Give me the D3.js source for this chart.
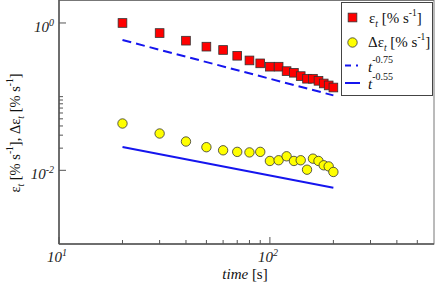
<!DOCTYPE html>
<html>
<head>
<meta charset="utf-8">
<script src="https://cdn.jsdelivr.net/npm/d3@7"></script>
<style>
  body { margin: 0; background: #fff; }
</style>
</head>
<body>
<div id="chart"></div>
<script>
  // time points [s]
  const times = [20, 30, 40, 50, 60, 70, 80, 90, 100, 110, 120, 130, 140, 150, 160, 170, 180, 190, 200];

  // strain rate eps_t [% s^-1]
  const epsRate = [1.0, 0.73, 0.575, 0.477, 0.43, 0.359, 0.31, 0.283, 0.255, 0.255, 0.222, 0.211, 0.19, 0.175, 0.175, 0.164, 0.151, 0.142, 0.133];

  // fluctuation delta eps_t [% s^-1]
  const deltaEps = [0.0432, 0.0316, 0.0246, 0.0206, 0.0187, 0.0178, 0.0175, 0.0178, 0.0134, 0.0137, 0.0155, 0.0134, 0.0137, 0.0102, 0.0144, 0.0134, 0.0117, 0.0113, 0.0095];

  // power-law guide lines, end points
  const fitTimes = [20, 200];
  const fitSlow = [0.587, 0.104];   // t^-0.75
  const fitFast = [0.0207, 0.0058]; // t^-0.55

  const xMinor = [20, 30, 40, 50, 60, 70, 80, 90, 200, 300, 400, 500];
  const xMajor = [10, 100];
  const yMinor = [0.02, 0.03, 0.04, 0.05, 0.06, 0.07, 0.08, 0.09, 0.1];
  const yMajor = [1, 0.01];

  const width = 436, height = 284;
  const mLeft = 59, mRight = 434, mTop = 0, mBottom = 244;
  const serif = 'Liberation Serif';

  const svg = d3.select('#chart').append('svg')
    .attr('width', width)
    .attr('height', height)
    .style('display', 'block');

  const x = d3.scaleLog().domain([10, 600]).range([mLeft, mRight]);
  const y = d3.scaleLog().domain([1e-3, 2.05]).range([mBottom, mTop]);

  const axisColor = '#555';

  // frame
  svg.append('rect')
    .attr('x', mLeft).attr('y', mTop + 0.5)
    .attr('width', mRight - mLeft).attr('height', mBottom - mTop - 0.5)
    .attr('fill', 'none')
    .attr('stroke', '#777')
    .attr('stroke-width', 1);
  svg.append('line')
    .attr('x1', mLeft).attr('x2', mRight).attr('y1', mBottom).attr('y2', mBottom)
    .attr('stroke', axisColor).attr('stroke-width', 1.5);
  svg.append('line')
    .attr('x1', mLeft).attr('x2', mLeft).attr('y1', mTop).attr('y2', mBottom)
    .attr('stroke', axisColor).attr('stroke-width', 1.5);

  // inward ticks
  const tickG = svg.append('g').attr('stroke', axisColor).attr('stroke-width', 1);
  tickG.selectAll('.xminor').data(xMinor).enter().append('line')
    .attr('x1', d => x(d)).attr('x2', d => x(d))
    .attr('y1', mBottom).attr('y2', mBottom - 4);
  tickG.selectAll('.xmajor').data(xMajor).enter().append('line')
    .attr('x1', d => x(d)).attr('x2', d => x(d))
    .attr('y1', mBottom).attr('y2', mBottom - 7);
  tickG.selectAll('.yminor').data(yMinor).enter().append('line')
    .attr('x1', mLeft).attr('x2', mLeft + 4)
    .attr('y1', d => y(d)).attr('y2', d => y(d));
  tickG.selectAll('.ymajor').data(yMajor).enter().append('line')
    .attr('x1', mLeft).attr('x2', mLeft + 7)
    .attr('y1', d => y(d)).attr('y2', d => y(d));

  // tick labels as 10^n
  function powLabel(sel, d) {
    const e = Math.round(Math.log10(d));
    sel.append('tspan').text('10');
    sel.append('tspan').attr('dy', -6).attr('font-size', 10).text(String(e));
  }

  svg.selectAll('.xlab').data(xMajor).enter().append('text')
    .attr('x', d => x(d) - 2)
    .attr('y', 262)
    .attr('text-anchor', 'middle')
    .attr('font-family', serif)
    .attr('font-size', 15)
    .attr('font-style', 'italic')
    .attr('fill', '#222')
    .each(function(d) { powLabel(d3.select(this), d); });

  svg.selectAll('.ylab').data(yMajor).enter().append('text')
    .attr('x', 54)
    .attr('y', d => y(d) + 9)
    .attr('text-anchor', 'end')
    .attr('font-family', serif)
    .attr('font-size', 15)
    .attr('font-style', 'italic')
    .attr('fill', '#222')
    .each(function(d) { powLabel(d3.select(this), d); });

  // axis titles
  const xt = svg.append('text')
    .attr('x', 245).attr('y', 279)
    .attr('text-anchor', 'middle')
    .attr('font-family', serif)
    .attr('font-size', 15)
    .attr('fill', '#111');
  xt.append('tspan').attr('font-style', 'italic').text('time');
  xt.append('tspan').text(' [s]');

  function rateLabel(t, prefix) {
    t.append('tspan').text(prefix + 'ε');
    t.append('tspan').attr('dy', 4).attr('font-size', 9.5).attr('font-style', 'italic').text('t');
    t.append('tspan').attr('dy', -4).text(' [% s');
    t.append('tspan').attr('dy', -7).attr('font-size', 9.5).text('-1');
    t.append('tspan').attr('dy', 7).text(']');
  }

  const yt = svg.append('text')
    .attr('transform', 'translate(20,133) rotate(-90)')
    .attr('text-anchor', 'middle')
    .attr('font-family', serif)
    .attr('font-size', 14.5)
    .attr('fill', '#111');
  rateLabel(yt, '');
  yt.append('tspan').text(', ');
  rateLabel(yt, 'Δ');

  // guide lines
  const line = d3.line().x(d => x(d[0])).y(d => y(d[1]));
  svg.append('path')
    .datum(d3.zip(fitTimes, fitSlow))
    .attr('d', line)
    .attr('fill', 'none')
    .attr('stroke', '#1515ee')
    .attr('stroke-width', 2)
    .attr('stroke-dasharray', '9,5');
  svg.append('path')
    .datum(d3.zip(fitTimes, fitFast))
    .attr('d', line)
    .attr('fill', 'none')
    .attr('stroke', '#1515ee')
    .attr('stroke-width', 2);

  // markers
  const sq = 8.7;
  svg.selectAll('.sq').data(d3.zip(times, epsRate)).enter().append('rect')
    .attr('x', d => x(d[0]) - sq / 2)
    .attr('y', d => y(d[1]) - sq / 2)
    .attr('width', sq).attr('height', sq)
    .attr('fill', '#ff0000')
    .attr('stroke', '#333')
    .attr('stroke-width', 0.8);

  svg.selectAll('.ci').data(d3.zip(times, deltaEps)).enter().append('circle')
    .attr('cx', d => x(d[0]))
    .attr('cy', d => y(d[1]))
    .attr('r', 4.7)
    .attr('fill', '#ffff00')
    .attr('stroke', '#333')
    .attr('stroke-width', 0.8);

  // legend
  const lg = svg.append('g');
  lg.append('rect')
    .attr('x', 341.5).attr('y', 2.5)
    .attr('width', 91).attr('height', 93)
    .attr('fill', '#fff')
    .attr('stroke', '#444')
    .attr('stroke-width', 1);
  lg.append('rect')
    .attr('x', 352.5 - sq / 2).attr('y', 17.5 - sq / 2)
    .attr('width', sq).attr('height', sq)
    .attr('fill', '#ff0000').attr('stroke', '#333').attr('stroke-width', 0.8);
  lg.append('circle')
    .attr('cx', 352.5).attr('cy', 42.5).attr('r', 4.7)
    .attr('fill', '#ffff00').attr('stroke', '#333').attr('stroke-width', 0.8);
  lg.append('line')
    .attr('x1', 345).attr('x2', 358).attr('y1', 65.5).attr('y2', 65.5)
    .attr('stroke', '#1515ee').attr('stroke-width', 2)
    .attr('stroke-dasharray', '6,5');
  lg.append('line')
    .attr('x1', 345).attr('x2', 360).attr('y1', 83).attr('y2', 83)
    .attr('stroke', '#1515ee').attr('stroke-width', 2);

  const l1 = lg.append('text').attr('x', 369).attr('y', 23)
    .attr('font-family', serif).attr('font-size', 15).attr('fill', '#111');
  rateLabel(l1, '');
  const l2 = lg.append('text').attr('x', 368).attr('y', 47)
    .attr('font-family', serif).attr('font-size', 15).attr('fill', '#111');
  rateLabel(l2, 'Δ');

  function powerLabel(yPos, exp) {
    const t = lg.append('text').attr('x', 368).attr('y', yPos)
      .attr('font-family', serif).attr('font-size', 15).attr('fill', '#111');
    t.append('tspan').attr('font-style', 'italic').text('t');
    t.append('tspan').attr('dy', -9).attr('font-size', 10).text(exp);
  }
  powerLabel(72, '-0.75');
  powerLabel(89, '-0.55');
</script>
</body>
</html>
